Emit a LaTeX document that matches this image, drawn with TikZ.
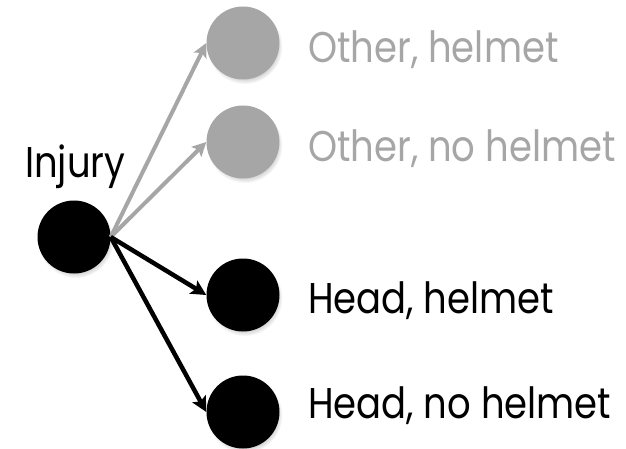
\documentclass[tikz,border=0pt]{standalone}
\usepackage{fontspec}
\usepackage{graphicx}
\setmainfont{Poppins}
\usetikzlibrary{arrows.meta,shadows}
\definecolor{faded}{HTML}{A6A6A6}
\newcommand{\narrowtext}[1]{\scalebox{0.86}[1]{#1}}
\tikzset{
  dot/.style={circle, minimum size=73pt, inner sep=0pt,
    circular drop shadow={shadow xshift=1.5pt, shadow yshift=-3pt, shadow scale=1.04, opacity=0.35}},
  livedot/.style={dot, fill=black},
  fadeddot/.style={dot, fill=faded},
  label/.style={anchor=base west, inner sep=0pt, font=\fontsize{43}{43}\selectfont},
  livearrow/.style={draw=black, line width=4.5pt, -{Stealth[length=15pt,width=15pt,inset=3pt]}},
  fadedarrow/.style={draw=faded, line width=4pt, -{Stealth[length=14pt,width=14pt,inset=3pt]}}
}
\begin{document}
\begin{tikzpicture}[x=1pt,y=-1pt]
  \useasboundingbox (0,0) rectangle (626,449);
  % outcome nodes
  \node[livedot]   (inj) at (74,237) {};
  \node[fadeddot]  (oh)  at (243,43) {};
  \node[fadeddot]  (onh) at (243,142) {};
  \node[livedot]   (hh)  at (243,295) {};
  \node[livedot]   (hnh) at (243,412) {};
  % labels
  \node[label] (tinj) at (25,178) {\narrowtext{Injury}};
  \node[label, text=faded] (toh)  at (308,63)  {\narrowtext{Other, helmet}};
  \node[label, text=faded] (tonh) at (308,162) {\narrowtext{Other, no helmet}};
  \node[label] (thh)  at (308,313) {\narrowtext{Head, helmet}};
  \node[label] (thnh) at (308,418) {\narrowtext{Head, no helmet}};
  % branches
  \draw[fadedarrow] (inj.east) -- (oh.west);
  \draw[fadedarrow] (inj.east) -- (onh.west);
  \draw[livearrow] (inj.east) -- (hh.west);
  \draw[livearrow] (inj.east) -- (hnh.west);
\end{tikzpicture}
\end{document}
